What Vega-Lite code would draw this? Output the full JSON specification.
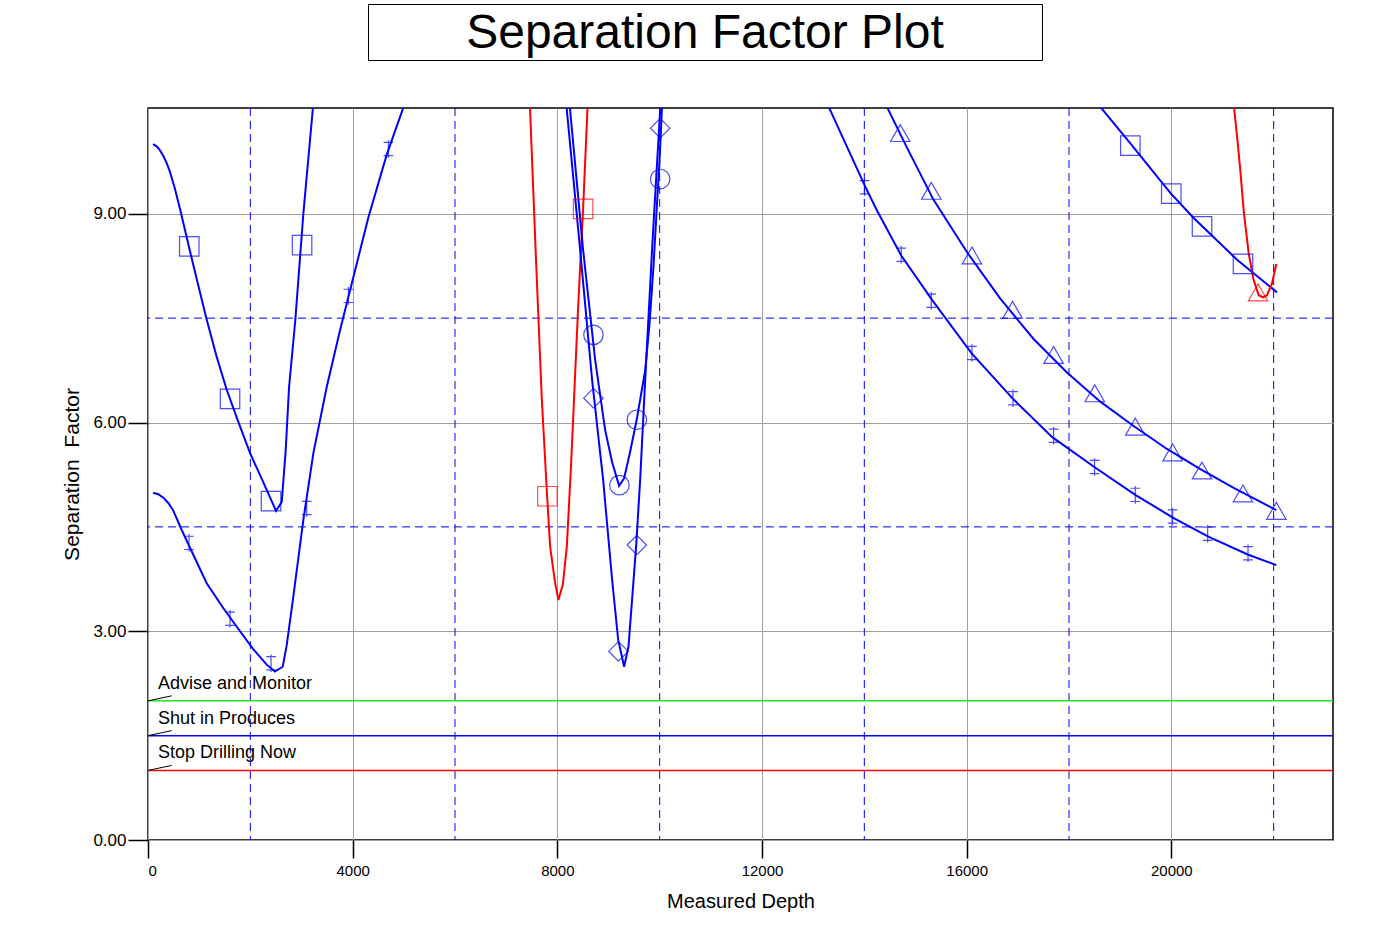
{
  "$schema": "https://vega.github.io/schema/vega-lite/v6.json",
  "background": "white",
  "padding": {"left": 61, "top": 3, "right": 10, "bottom": 10},
  "spacing": 45,
  "config": {"font": "Liberation Sans", "view": {"stroke": null}},
  "datasets": {
    "curves": [
      {"c":"A","x":98,"y":10.0},{"c":"A","x":170,"y":9.97},{"c":"A","x":235,"y":9.91},{"c":"A","x":300,"y":9.83},{"c":"A","x":370,"y":9.72},{"c":"A","x":430,"y":9.6},{"c":"A","x":526,"y":9.36},{"c":"A","x":626,"y":9.07},{"c":"A","x":821,"y":8.46},{"c":"A","x":1000,"y":7.92},{"c":"A","x":1147,"y":7.48},{"c":"A","x":1340,"y":6.95},{"c":"A","x":1538,"y":6.47},{"c":"A","x":1760,"y":6.02},{"c":"A","x":1994,"y":5.56},{"c":"A","x":2248,"y":5.15},{"c":"A","x":2502,"y":4.73},{"c":"A","x":2614,"y":4.86},{"c":"A","x":2692,"y":5.61},{"c":"A","x":2757,"y":6.51},{"c":"A","x":2880,"y":7.48},{"c":"A","x":3036,"y":9.0},{"c":"A","x":3219,"y":10.49},{"c":"A","x":3300,"y":11.1},
      {"c":"B","x":100,"y":4.99},{"c":"B","x":200,"y":4.97},{"c":"B","x":300,"y":4.92},{"c":"B","x":400,"y":4.84},{"c":"B","x":490,"y":4.74},{"c":"B","x":650,"y":4.47},{"c":"B","x":821,"y":4.2},{"c":"B","x":1147,"y":3.69},{"c":"B","x":1473,"y":3.33},{"c":"B","x":1799,"y":3.0},{"c":"B","x":2060,"y":2.74},{"c":"B","x":2320,"y":2.52},{"c":"B","x":2480,"y":2.42},{"c":"B","x":2633,"y":2.49},{"c":"B","x":2711,"y":2.8},{"c":"B","x":2841,"y":3.5},{"c":"B","x":3036,"y":4.6},{"c":"B","x":3232,"y":5.56},{"c":"B","x":3493,"y":6.51},{"c":"B","x":3754,"y":7.33},{"c":"B","x":4001,"y":8.05},{"c":"B","x":4308,"y":8.95},{"c":"B","x":4666,"y":9.85},{"c":"B","x":4973,"y":10.49},{"c":"B","x":5100,"y":10.75},
      {"c":"C","x":7440,"y":10.95},{"c":"C","x":7468,"y":10.49},{"c":"C","x":7580,"y":8.4},{"c":"C","x":7697,"y":6.33},{"c":"C","x":7800,"y":4.95},{"c":"C","x":7859,"y":4.22},{"c":"C","x":7912,"y":3.93},{"c":"C","x":7960,"y":3.68},{"c":"C","x":8022,"y":3.45},{"c":"C","x":8060,"y":3.55},{"c":"C","x":8108,"y":3.67},{"c":"C","x":8186,"y":4.22},{"c":"C","x":8270,"y":5.41},{"c":"C","x":8326,"y":6.33},{"c":"C","x":8400,"y":7.55},{"c":"C","x":8446,"y":8.24},{"c":"C","x":8504,"y":9.07},{"c":"C","x":8588,"y":10.49},{"c":"C","x":8620,"y":11.0},
      {"c":"D","x":8130,"y":11.05},{"c":"D","x":8186,"y":10.49},{"c":"D","x":8446,"y":8.48},{"c":"D","x":8680,"y":6.61},{"c":"D","x":8895,"y":5.18},{"c":"D","x":9071,"y":3.74},{"c":"D","x":9189,"y":2.88},{"c":"D","x":9306,"y":2.49},{"c":"D","x":9391,"y":2.78},{"c":"D","x":9541,"y":4.23},{"c":"D","x":9619,"y":5.18},{"c":"D","x":9717,"y":6.61},{"c":"D","x":9860,"y":8.6},{"c":"D","x":9990,"y":10.24},{"c":"D","x":10050,"y":11.0},
      {"c":"E","x":8200,"y":10.95},{"c":"E","x":8250,"y":10.49},{"c":"E","x":8504,"y":8.48},{"c":"E","x":8739,"y":6.9},{"c":"E","x":8935,"y":5.89},{"c":"E","x":9071,"y":5.43},{"c":"E","x":9208,"y":5.09},{"c":"E","x":9306,"y":5.2},{"c":"E","x":9423,"y":5.58},{"c":"E","x":9554,"y":6.05},{"c":"E","x":9717,"y":6.75},{"c":"E","x":9800,"y":7.4},{"c":"E","x":9879,"y":8.24},{"c":"E","x":9945,"y":9.1},{"c":"E","x":10000,"y":9.8},{"c":"E","x":10043,"y":10.49},{"c":"E","x":10080,"y":11.0},
      {"c":"G","x":13280,"y":10.58},{"c":"G","x":13333,"y":10.49},{"c":"G","x":14018,"y":9.39},{"c":"G","x":14245,"y":9.05},{"c":"G","x":14721,"y":8.4},{"c":"G","x":15327,"y":7.76},{"c":"G","x":16090,"y":7.0},{"c":"G","x":16891,"y":6.35},{"c":"G","x":17673,"y":5.79},{"c":"G","x":18495,"y":5.36},{"c":"G","x":19296,"y":4.96},{"c":"G","x":20039,"y":4.63},{"c":"G","x":20723,"y":4.36},{"c":"G","x":21505,"y":4.1},{"c":"G","x":22053,"y":3.95},
      {"c":"H","x":14400,"y":10.61},{"c":"H","x":14473,"y":10.49},{"c":"H","x":14833,"y":9.95},{"c":"H","x":15353,"y":9.2},{"c":"H","x":16005,"y":8.45},{"c":"H","x":16657,"y":7.78},{"c":"H","x":17308,"y":7.2},{"c":"H","x":17960,"y":6.72},{"c":"H","x":18612,"y":6.3},{"c":"H","x":19263,"y":5.95},{"c":"H","x":19915,"y":5.62},{"c":"H","x":20567,"y":5.33},{"c":"H","x":21218,"y":5.06},{"c":"H","x":22053,"y":4.74},
      {"c":"I","x":18600,"y":10.55},{"c":"I","x":18664,"y":10.49},{"c":"I","x":19199,"y":10.01},{"c":"I","x":19980,"y":9.3},{"c":"I","x":20437,"y":8.94},{"c":"I","x":21284,"y":8.34},{"c":"I","x":22066,"y":7.87},
      {"c":"J","x":21200,"y":10.8},{"c":"J","x":21232,"y":10.49},{"c":"J","x":21300,"y":10.0},{"c":"J","x":21349,"y":9.62},{"c":"J","x":21414,"y":9.05},{"c":"J","x":21512,"y":8.43},{"c":"J","x":21609,"y":8.05},{"c":"J","x":21707,"y":7.83},{"c":"J","x":21792,"y":7.8},{"c":"J","x":21870,"y":7.83},{"c":"J","x":21968,"y":8.0},{"c":"J","x":22053,"y":8.28}
    ],
    "markers": [
      {"c":"A","x":807,"y":8.53},{"c":"A","x":1603,"y":6.34},{"c":"A","x":2405,"y":4.87},{"c":"A","x":3011,"y":8.55},
      {"c":"B","x":802,"y":4.27},{"c":"B","x":1603,"y":3.18},{"c":"B","x":2405,"y":2.54},{"c":"B","x":3102,"y":4.77},{"c":"B","x":3916,"y":7.82},{"c":"B","x":4698,"y":9.93},
      {"c":"C","x":7806,"y":4.94},{"c":"C","x":8504,"y":9.07},
      {"c":"D","x":8706,"y":6.35},{"c":"D","x":9195,"y":2.71},{"c":"D","x":9554,"y":4.24},{"c":"D","x":10010,"y":10.23},
      {"c":"E","x":8706,"y":7.26},{"c":"E","x":9214,"y":5.1},{"c":"E","x":9554,"y":6.04},{"c":"E","x":10010,"y":9.5},
      {"c":"G","x":14005,"y":9.38},{"c":"G","x":14721,"y":8.41},{"c":"G","x":15308,"y":7.75},{"c":"G","x":16103,"y":7.0},{"c":"G","x":16905,"y":6.35},{"c":"G","x":17699,"y":5.81},{"c":"G","x":18500,"y":5.36},{"c":"G","x":19296,"y":4.96},{"c":"G","x":20025,"y":4.65},{"c":"G","x":20710,"y":4.4},{"c":"G","x":21499,"y":4.12},
      {"c":"H","x":14702,"y":10.16},{"c":"H","x":15308,"y":9.33},{"c":"H","x":16103,"y":8.4},{"c":"H","x":16897,"y":7.62},{"c":"H","x":17699,"y":6.97},{"c":"H","x":18504,"y":6.42},{"c":"H","x":19296,"y":5.94},{"c":"H","x":20025,"y":5.57},{"c":"H","x":20600,"y":5.31},{"c":"H","x":21401,"y":4.98},{"c":"H","x":22053,"y":4.73},
      {"c":"I","x":19199,"y":9.98},{"c":"I","x":19999,"y":9.29},{"c":"I","x":20600,"y":8.82},{"c":"I","x":21401,"y":8.28},
      {"c":"J","x":21695,"y":7.87}
    ],
    "limits": [
      {"c":"Advise and Monitor","sf":2.0},
      {"c":"Shut in Produces","sf":1.5},
      {"c":"Stop Drilling Now","sf":1.0}
    ],
    "dashX": [{"md":2000},{"md":6000},{"md":10000},{"md":14000},{"md":18000},{"md":22000}],
    "dashY": [{"sf":4.5},{"sf":7.5}],
    "title": [{"t":"Separation Factor Plot"}],
    "blank": [{"t":""}]
  },
  "vconcat": [
    {
      "spacing": 0,
      "hconcat": [
        {
          "width": 219,
          "height": 56,
          "data": {"name": "blank"},
          "mark": {"type": "text"},
          "encoding": {"text": {"field": "t"}}
        },
        {
          "width": 674,
          "height": 56,
          "view": {"stroke": "black", "strokeWidth": 1},
          "data": {"name": "title"},
          "mark": {"type": "text", "font": "Liberation Sans", "fontSize": 48, "baseline": "alphabetic", "align": "center", "dy": 16, "color": "black"},
          "encoding": {"text": {"field": "t"}}
        }
      ]
    },
    {
      "width": 1185,
      "height": 732,
      "view": {"stroke": "black", "strokeWidth": 1.5},
      "encoding": {
        "x": {"type": "quantitative", "scale": {"domain": [0, 23160], "nice": false, "zero": false},
              "axis": {"title": "Measured Depth", "values": [0,4000,8000,12000,16000,20000], "format": "d",
                       "grid": true, "gridColor": "#a0a0a0", "gridWidth": 1, "domain": false,
                       "tickSize": 18, "tickColor": "black", "tickWidth": 1.5,
                       "labelFontSize": 15, "labelColor": "black", "labelPadding": 5,
                       "titleFontSize": 20, "titleFontWeight": "normal", "titleColor": "black", "titlePadding": 13}},
        "y": {"type": "quantitative", "scale": {"domain": [0, 10.52], "nice": false, "zero": false},
              "axis": {"title": "Separation\u00a0 Factor", "values": [0,3,6,9], "format": ".2f",
                       "grid": true, "gridColor": "#a0a0a0", "gridWidth": 1, "domain": false,
                       "tickSize": 20, "tickColor": "black", "tickWidth": 1.5,
                       "labelFontSize": 17, "labelColor": "black", "labelPadding": 2,
                       "titleFontSize": 21, "titleFontWeight": "normal", "titleColor": "black", "titlePadding": 10}}
      },
      "layer": [
        {
          "data": {"name": "dashX"},
          "mark": {"type": "rule", "color": "#0000ff", "strokeWidth": 1, "strokeDash": [8, 5]},
          "encoding": {"x": {"field": "md", "type": "quantitative"}}
        },
        {
          "data": {"name": "dashY"},
          "mark": {"type": "rule", "color": "#0000ff", "strokeWidth": 1, "strokeDash": [8, 5]},
          "encoding": {"y": {"field": "sf", "type": "quantitative"}}
        },
        {
          "data": {"name": "limits"},
          "mark": {"type": "rule", "strokeWidth": 1.5},
          "encoding": {
            "y": {"field": "sf", "type": "quantitative"},
            "color": {"field": "c", "type": "nominal", "legend": null}
          }
        },
        {
          "data": {"name": "limits"},
          "mark": {"type": "rule", "color": "black", "strokeWidth": 1, "y2Offset": -5},
          "encoding": {
            "x": {"datum": 0, "type": "quantitative"},
            "x2": {"datum": 463},
            "y": {"field": "sf", "type": "quantitative"},
            "y2": {"field": "sf"}
          }
        },
        {
          "data": {"name": "limits"},
          "mark": {"type": "text", "color": "black", "fontSize": 18, "align": "left", "baseline": "alphabetic", "dx": 10, "dy": -12},
          "encoding": {
            "x": {"datum": 0, "type": "quantitative"},
            "y": {"field": "sf", "type": "quantitative"},
            "text": {"field": "c"}
          }
        },
        {
          "data": {"name": "curves"},
          "mark": {"type": "line", "strokeWidth": 2, "clip": true, "interpolate": "linear"},
          "encoding": {
            "x": {"field": "x", "type": "quantitative"},
            "y": {"field": "y", "type": "quantitative"},
            "detail": {"field": "c"},
            "color": {"field": "c", "type": "nominal",
                      "scale": {"domain": ["A","B","C","D","E","G","H","I","J","Advise and Monitor","Shut in Produces","Stop Drilling Now"],
                                "range": ["#0000ff","#0000ff","#ff0000","#0000ff","#0000ff","#0000ff","#0000ff","#0000ff","#ff0000","#22e022","#0000ff","#ff0000"]},
                      "legend": null}
          }
        },
        {
          "data": {"name": "markers"},
          "mark": {"type": "point", "filled": false, "strokeWidth": 1.2, "size": 380, "clip": true},
          "encoding": {
            "x": {"field": "x", "type": "quantitative"},
            "y": {"field": "y", "type": "quantitative"},
            "color": {"field": "c", "type": "nominal", "legend": null},
            "shape": {"field": "c", "type": "nominal", "legend": null,
                      "scale": {"domain": ["A","B","C","D","E","G","H","I","J"],
                                "range": ["square","M0,-0.9L0,0.9M-0.5,-0.68L0.5,-0.68M-0.5,0.68L0.5,0.68","square","diamond","circle","M0,-0.9L0,0.9M-0.5,-0.68L0.5,-0.68M-0.5,0.68L0.5,0.68","triangle-up","square","triangle-up"]}}
          }
        }
      ]
    }
  ]
}
